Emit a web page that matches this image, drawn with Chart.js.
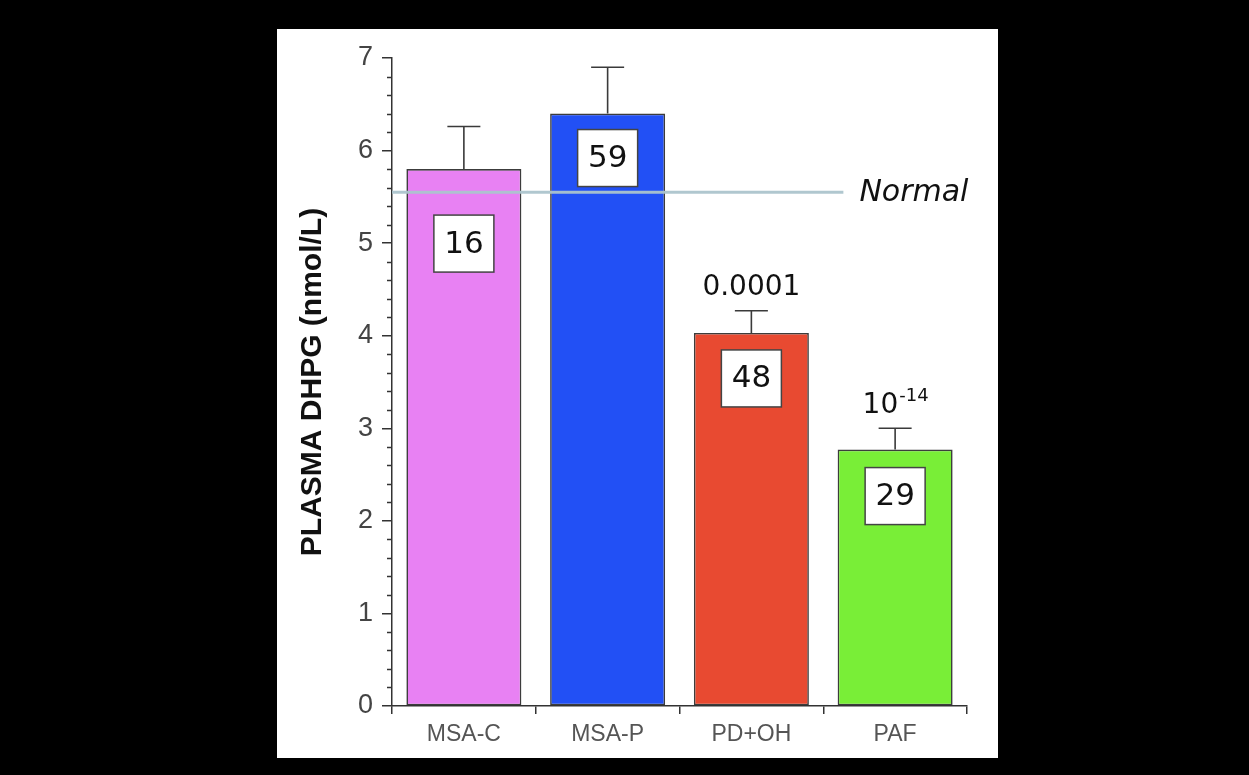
<!DOCTYPE html>
<html>
<head>
<meta charset="utf-8">
<script src="https://cdn.jsdelivr.net/npm/chart.js@4/dist/chart.umd.min.js"></script>
<style>
  html, body { margin: 0; padding: 0; background: #000; }
  body { width: 1249px; height: 775px; position: relative; overflow: hidden; }
  #panel { position: absolute; left: 277px; top: 29px; width: 721px; height: 729px; background: #fff; }
</style>
</head>
<body>
<div id="panel"><canvas id="myChart" width="721" height="729"></canvas></div>
<script>
const categories = ['MSA-C', 'MSA-P', 'PD+OH', 'PAF'];
const means = [5.80, 6.40, 4.03, 2.77];
const errUpper = [6.26, 6.90, 4.27, 3.00];
const nCounts = ['16', '59', '48', '29'];
const pBase = ['', '', '0.0001', '10'];
const pSup = ['', '', '', '-14'];
const normalValue = 5.55;
const barColors = ['#e881f3', '#2250f5', '#e84a31', '#79ee37'];

const COMIC = '"DejaVu Sans", sans-serif';

// minor ticks, error bars, normal line, n boxes and p values
const annotations = {
    id: 'annotations',
    afterDatasetsDraw(chart) {
        const { ctx, scales: { x, y } } = chart;
        const meta = chart.getDatasetMeta(0);
        ctx.save();

        // minor ticks on y axis (every 0.2)
        ctx.strokeStyle = '#333';
        ctx.lineWidth = 1.5;
        for (let k = 1; k < 35; k++) {
            if (k % 5 === 0) continue;
            const py = Math.round(y.getPixelForValue(k / 5)) + 0.5;
            ctx.beginPath();
            ctx.moveTo(x.left - 5, py);
            ctx.lineTo(x.left, py);
            ctx.stroke();
        }

        // error bars (upper only)
        ctx.strokeStyle = '#3a3a3a';
        ctx.lineWidth = 1.6;
        meta.data.forEach((bar, i) => {
            const top = y.getPixelForValue(means[i]);
            const cap = y.getPixelForValue(errUpper[i]);
            ctx.beginPath();
            ctx.moveTo(bar.x, top);
            ctx.lineTo(bar.x, cap);
            ctx.moveTo(bar.x - 16.5, cap);
            ctx.lineTo(bar.x + 16.5, cap);
            ctx.stroke();
        });

        // normal line
        const ny = y.getPixelForValue(normalValue);
        const nEnd = x.getPixelForValue(2.64);
        ctx.strokeStyle = 'rgba(172,196,204,0.95)';
        ctx.lineWidth = 3;
        ctx.beginPath();
        ctx.moveTo(x.left, ny);
        ctx.lineTo(nEnd, ny);
        ctx.stroke();
        ctx.fillStyle = '#111';
        ctx.font = 'italic 30px ' + COMIC;
        ctx.textAlign = 'left';
        ctx.textBaseline = 'middle';
        ctx.fillText('Normal', nEnd + 16, ny + 1);

        // n boxes
        const boxDrop = [46, 16, 17, 18];
        meta.data.forEach((bar, i) => {
            const top = y.getPixelForValue(means[i]) + boxDrop[i];
            const w = 60, h = 57;
            ctx.fillStyle = '#fff';
            ctx.fillRect(bar.x - w / 2, top, w, h);
            ctx.strokeStyle = '#444';
            ctx.lineWidth = 1.5;
            ctx.strokeRect(bar.x - w / 2, top, w, h);
            ctx.fillStyle = '#111';
            ctx.font = '31px ' + COMIC;
            ctx.textAlign = 'center';
            ctx.textBaseline = 'middle';
            ctx.fillText(nCounts[i], bar.x, top + h / 2 + 1);
        });

        // p values above error bars
        meta.data.forEach((bar, i) => {
            if (!pBase[i]) return;
            const cap = y.getPixelForValue(errUpper[i]);
            const py = cap - 23;
            ctx.fillStyle = '#111';
            ctx.textBaseline = 'middle';
            ctx.font = '28px ' + COMIC;
            const wBase = ctx.measureText(pBase[i]).width;
            ctx.font = '18px ' + COMIC;
            const wSup = pSup[i] ? ctx.measureText(pSup[i]).width : 0;
            const startX = bar.x - (wBase + wSup) / 2;
            ctx.textAlign = 'left';
            ctx.font = '28px ' + COMIC;
            ctx.fillText(pBase[i], startX, py);
            if (pSup[i]) {
                ctx.font = '18px ' + COMIC;
                ctx.fillText(pSup[i], startX + wBase + 1, py - 9);
            }
        });

        ctx.restore();
    }
};

new Chart(document.getElementById('myChart'), {
    type: 'bar',
    data: {
        labels: categories,
        datasets: [{
            data: means,
            backgroundColor: barColors,
            borderColor: '#3c3c3c',
            borderWidth: 1.6,
            borderSkipped: false,
            barPercentage: 0.8,
            categoryPercentage: 1.0,
        }]
    },
    options: {
        responsive: false,
        animation: false,
        layout: { padding: { left: 0, right: 31, top: 29, bottom: 0 } },
        plugins: {
            legend: { display: false },
            tooltip: { enabled: false },
        },
        scales: {
            x: {
                offset: true,
                grid: {
                    offset: true,
                    drawOnChartArea: false,
                    drawTicks: true,
                    tickLength: 8,
                    color: '#333',
                    lineWidth: 1.5,
                },
                border: { display: true, color: '#333', width: 1.5 },
                ticks: {
                    color: '#555',
                    font: { family: 'Arial, "Liberation Sans", sans-serif', size: 23 },
                    padding: 7,
                    maxRotation: 0,
                },
                afterFit(scale) { scale.height = 52; },
            },
            y: {
                min: 0,
                max: 7,
                grid: {
                    drawOnChartArea: false,
                    tickLength: 10,
                    color: '#333',
                    lineWidth: 1.5,
                },
                border: { display: true, color: '#333', width: 1.5 },
                ticks: {
                    stepSize: 1,
                    color: '#444',
                    padding: 9,
                    font: { family: 'Arial, "Liberation Sans", sans-serif', size: 27 },
                },
                title: {
                    display: true,
                    text: 'PLASMA DHPG (nmol/L)',
                    color: '#111',
                    font: { family: 'Arial, "Liberation Sans", sans-serif', size: 30, weight: 'bold' },
                    padding: { top: 18, bottom: 0 },
                },
                afterFit(scale) { scale.width = 115; },
            }
        }
    },
    plugins: [annotations]
});
</script>
</body>
</html>
